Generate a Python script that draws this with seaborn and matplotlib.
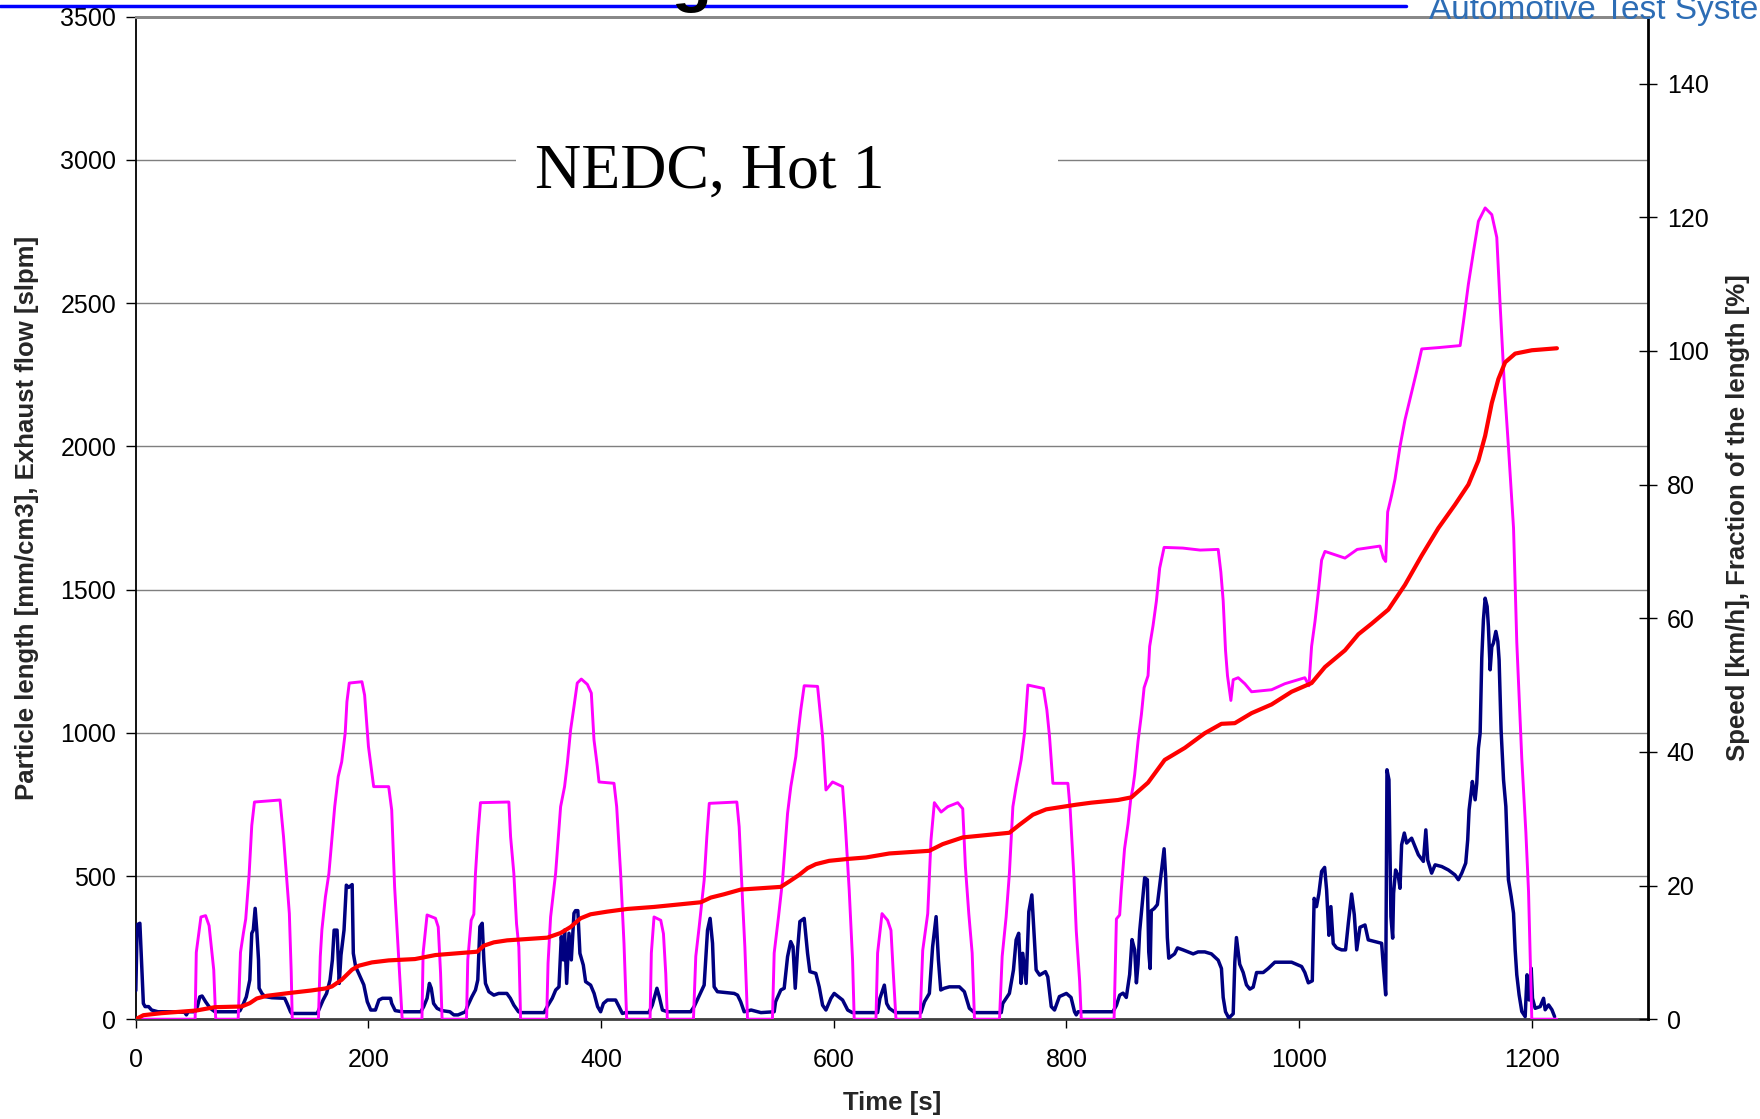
import matplotlib
matplotlib.use("Agg")
import matplotlib.pyplot as plt
import pandas as pd
import seaborn as sns
from matplotlib.lines import Line2D
from matplotlib.patches import Rectangle

# ---- measured traces: (time [s], value) ----
# vehicle speed [km/h], right axis
speed_trace = [
    (0, 0), (51, 0), (52, 10), (56, 15.3), (60, 15.5), (63, 14), (67, 7.4), (68.7, 0),
    (88, 0), (90, 10), (92.6, 13), (94.5, 15), (97.4, 21.6), (99.7, 29), (102, 32.5), (124, 32.8),
    (127, 27.3), (132, 15.8), (133.6, 7.1), (134.5, 0),
    (157, 0), (158.6, 9.4), (160, 13.4), (163, 18.3), (166, 21.8), (171, 31.8), (174, 36.3), (177, 38.5),
    (180, 42.8), (181.5, 47.5), (183.5, 50.3), (194.4, 50.5), (196.7, 48.5), (200, 40.8), (204.5, 34.8),
    (217.4, 34.8), (220, 31.3), (222.5, 19.8), (227.4, 4.9), (229, 0),
    (246, 0), (247, 9.9), (250.4, 15.6), (257.6, 15.1), (260, 13.8), (262, 6.9), (263.3, 0),
    (284.3, 0), (285.4, 8.9), (288.3, 14.8), (290.6, 15.7), (292, 21.8), (294, 27.3), (296.3, 32.4),
    (320.7, 32.5), (322.2, 27.3), (325, 21.8), (327.3, 14.3), (329.3, 10.8), (330.8, 0),
    (353.2, 0), (354.4, 8.4), (356.6, 15.3), (360.9, 21.8), (365.2, 31.8), (368.6, 34.8), (371, 38.3),
    (373.8, 43.3), (376.7, 46.8), (379.5, 50.3), (383, 50.9), (388.2, 50.1), (391.6, 48.8), (393.9, 41.8),
    (396.8, 37.8), (398.2, 35.5), (411.1, 35.3), (413.4, 31.8), (416.8, 21.8), (419.7, 11.3), (422, 0),
    (442.1, 0), (443.2, 9.9), (445.5, 15.3), (451.3, 14.8), (453.6, 12.8), (455.6, 6.8), (457, 0),
    (479.4, 0), (481.4, 9.4), (484.3, 13.8), (488.6, 20.8), (490.9, 27.3), (493, 32.3), (516.7, 32.5),
    (518.7, 28.8), (521.6, 17.8), (523.6, 10.8), (525.9, 0),
    (547.3, 0), (548.8, 9.9), (552.5, 15.3), (556, 20.8), (560.3, 30.8), (563.1, 34.8), (567.4, 39.3),
    (569.7, 43.3), (571.7, 46.3), (574.6, 49.9), (586.1, 49.8), (588.1, 46.3), (590.4, 42.3), (593.3, 34.3),
    (599, 35.5), (607.6, 34.8), (609.9, 29.3), (613.3, 19.3), (616.2, 8.8), (617.6, 0),
    (636.3, 0), (637.7, 9.9), (641.5, 15.8), (646.3, 14.8), (649.2, 13.3), (651.2, 6.9), (653.5, 0),
    (674.2, 0), (676.5, 10.3), (680.8, 15.8), (683.6, 26.8), (686.5, 32.4), (692.3, 31), (698, 31.8),
    (706.6, 32.4), (710.9, 31.5), (713.2, 22.8), (716.1, 15.8), (719, 9.9), (721, 0),
    (742.5, 0), (744.8, 9.4), (748.2, 15.3), (751, 21.8), (754, 31.8), (756.8, 34.8), (761.1, 38.8),
    (764, 42.8), (766.9, 50), (780.3, 49.5), (783.2, 46.3), (785.5, 42.3), (788.4, 35.3), (801.3, 35.3),
    (803.3, 31.3), (806.5, 21.2), (808.5, 13.2), (811.4, 5.7), (812.8, 0),
    (841, 0), (843, 15), (845.8, 15.6), (847.2, 19.3), (850, 25.5), (853, 29.2), (855.3, 32.9),
    (857.3, 34.8), (858.7, 36.6), (861.6, 41.6), (864.5, 45.6), (866.8, 49.6), (870.2, 51.4),
    (871.6, 55.8), (874.5, 58.9), (877.4, 62.6), (880.2, 67.5), (884, 70.6), (900, 70.5), (915, 70.2),
    (930.5, 70.3), (932.8, 66.9), (934.8, 62.6), (936.8, 55.2), (938.5, 51.4), (941.4, 47.7),
    (943.4, 50.8), (947.7, 51.1), (953.4, 50.2), (959.2, 49), (976.4, 49.3), (987.8, 50.2), (1005, 51.1),
    (1008.5, 49.9), (1010.8, 55.8), (1013.7, 59.5), (1016.5, 63.8), (1019.4, 68.7), (1022.3, 70),
    (1039.5, 69), (1050, 70.3), (1069.6, 70.8), (1072.5, 69), (1074.5, 68.5), (1076.2, 75.9),
    (1079.6, 78.4), (1082.5, 80.8), (1086.8, 85.7), (1091.1, 89.7), (1096.8, 93.8), (1101.2, 97),
    (1105.5, 100.3), (1120, 100.5), (1138.5, 100.8), (1141.3, 104.3), (1145.6, 110), (1150, 114.9),
    (1154.2, 119.4), (1160, 121.4), (1165.7, 120.4), (1170, 117), (1172.9, 106.8), (1176.6, 94.6),
    (1180, 85.7), (1184.4, 73.5), (1187.2, 56.4), (1191.5, 39), (1195, 28), (1197.3, 19.1),
    (1200.1, 0), (1221.7, 0),
]

# cumulative fraction of the particle length [%], right axis
fraction_trace = [
    (0, 0), (6.5, 0.6), (22, 0.9), (52, 1.3), (68, 1.8), (91, 1.9), (98, 2.4), (104, 3.1),
    (112.6, 3.5), (131, 3.9), (151, 4.3), (163, 4.6), (168.6, 4.9), (177, 5.9), (185.8, 7.4),
    (191.6, 8.0), (203, 8.5), (217.4, 8.8), (240, 9.0), (257.6, 9.6), (279, 9.9), (293.5, 10.1),
    (299.2, 11.0), (307.8, 11.5), (319.3, 11.8), (353.7, 12.2), (365.2, 12.9), (373.8, 13.8),
    (382.4, 15.1), (391, 15.7), (405.4, 16.1), (422.6, 16.5), (445.5, 16.8), (468.5, 17.2),
    (485.7, 17.5), (494.3, 18.2), (505.8, 18.7), (520.1, 19.4), (537.4, 19.6), (554.5, 19.8),
    (561.7, 20.6), (570.3, 21.6), (577.5, 22.6), (584.6, 23.2), (596.1, 23.7), (613.3, 24.0),
    (627.7, 24.2), (647.8, 24.8), (682.2, 25.2), (693.7, 26.2), (710.9, 27.2), (733.9, 27.6),
    (751, 27.9), (759.7, 29.1), (771.2, 30.6), (782.6, 31.4), (808.5, 32.1), (821.4, 32.4),
    (844.4, 32.8), (855.9, 33.2), (870.2, 35.4), (884.5, 38.8), (901.8, 40.6), (919, 42.8),
    (933.3, 44.2), (944.8, 44.3), (959.2, 45.8), (976.4, 47.1), (993.6, 49.0), (1010.8, 50.3),
    (1022.3, 52.7), (1039.5, 55.2), (1051, 57.6), (1062.5, 59.2), (1076.8, 61.3), (1091.1, 65.0),
    (1105.5, 69.4), (1119.8, 73.5), (1134.1, 77.0), (1145.6, 80.0), (1154.2, 83.6), (1160, 87.3),
    (1165.7, 92.2), (1171.4, 95.8), (1177.2, 98.3), (1185.8, 99.6), (1200.1, 100.1), (1221.7, 100.4),
]

# particle length / exhaust flow signal, left axis
flow_trace = [
    (0, 100), (1.2, 330), (3.5, 335), (5, 195), (6.5, 55), (8, 44), (11, 44), (13.6, 32), (19, 26),
    (30, 26), (42, 24), (43.5, 15), (45, 26), (51, 26), (53, 45), (55, 78), (57, 81), (60, 61),
    (64, 38), (68, 26), (88, 26), (89.6, 30), (92.6, 55), (95, 78), (98, 137), (99.7, 300), (101, 311),
    (102.6, 387), (104, 311), (105.5, 207), (106, 108), (108.4, 90), (111, 79), (117, 75), (128, 73),
    (130, 55), (133, 26), (134, 20), (156, 20),
    (158.6, 44), (161, 67), (164, 90), (167, 137), (169, 207), (170.5, 311), (173, 311), (174.9, 125),
    (176.4, 224), (179, 311), (181, 468), (183, 460), (186, 470), (187, 230), (189, 183), (191.6, 160),
    (196, 120), (199, 61), (202, 32), (206, 32), (209, 67), (212, 73), (219, 73), (220, 55), (223, 30),
    (229, 26), (245, 26), (247.5, 44), (250.4, 73), (252.4, 125), (254, 108), (256, 55), (259, 38),
    (263, 30), (270, 26), (273.4, 15), (277, 15), (283.4, 26), (285, 44), (289, 79), (292, 102),
    (294, 137), (295.8, 323), (297.8, 335), (299.2, 207), (300.6, 125), (303.5, 96), (307.8, 84),
    (312, 90), (319, 90), (322, 73), (325, 49), (329, 26), (331, 23), (351, 23), (353.7, 44), (358, 73),
    (361, 102), (363.8, 113), (365.8, 288), (367.5, 207), (368.6, 311), (370.4, 125), (372.4, 300),
    (374.4, 207), (376.7, 370), (378, 379), (380, 379), (381.8, 230), (384.7, 189), (386.7, 131),
    (391, 119), (394, 90), (397, 44), (399.6, 26), (402, 55), (405.4, 67), (412.5, 67), (415.4, 44),
    (418.3, 20), (421, 23), (441, 23), (444, 49), (448, 108), (450, 79), (452.7, 32), (457, 26),
    (477, 26), (480, 44), (484, 79), (488.6, 119), (491.5, 311), (493.7, 352), (495.8, 265),
    (497.2, 113), (500, 96), (514.4, 90), (517.3, 84), (520, 61), (523, 26), (529, 32), (537.4, 23),
    (548.8, 26), (550, 61), (554.5, 102), (557.4, 108), (560.3, 218), (563, 271), (565, 253),
    (566.9, 108), (568.9, 242), (570.9, 341), (574.6, 352), (577.5, 230), (579.5, 166), (584.6, 160),
    (587.5, 113), (590.4, 49), (593.3, 32), (597.6, 73), (600.4, 90), (607.6, 67), (612, 32), (616, 23),
    (637.7, 23), (639.7, 73), (643.5, 119), (645.5, 55), (647.8, 38), (652, 26), (653.5, 23), (675, 23),
    (678, 61), (682.2, 90), (685, 253), (688, 358), (690, 207), (692, 102), (695, 108), (699.4, 113),
    (708, 113), (712.3, 96), (716.6, 38), (721, 23), (744, 23), (745.3, 55), (751, 90), (754.5, 172),
    (756.8, 277), (759, 300), (761, 125), (762.5, 230), (765.4, 125), (767.7, 375), (770.3, 434),
    (771.7, 335), (774, 172), (777, 154), (782, 166), (784, 148), (787, 44), (789.8, 32), (794, 79),
    (800, 90), (804, 76), (807, 26), (808.5, 15), (810, 26), (840, 26),
    (843, 48), (845.8, 84), (848.7, 91), (851.5, 76), (854.4, 156), (856.4, 278), (858.7, 242),
    (860.2, 127), (861.6, 192), (863, 307), (865, 393), (867.3, 494), (869.6, 487), (870.8, 235),
    (872, 177), (873, 379), (875.4, 386), (878.2, 400), (880.2, 465), (881.7, 516), (884, 595),
    (885.4, 494), (886.8, 285), (888, 213), (893, 228), (895.5, 249), (900.3, 242), (904.6, 235),
    (909, 228), (913.2, 235), (919, 235), (924.7, 228), (930.5, 206), (933.3, 177), (934.8, 76),
    (936.8, 26), (939.6, 4), (943.4, 19), (944.8, 199), (946.2, 285), (949, 192), (952, 163),
    (954.8, 120), (957.7, 105), (960.6, 112), (963.5, 163), (969.2, 163), (973.5, 177), (979.2, 199),
    (987.8, 199), (993.6, 199), (1002.2, 184), (1005, 163), (1008, 127), (1011.4, 134), (1013, 422),
    (1015, 393), (1017, 437), (1019.4, 516), (1022, 530), (1023.7, 451), (1025.7, 293), (1027.4, 393),
    (1029.4, 264), (1032.3, 249), (1036.6, 242), (1040, 242), (1042.4, 336), (1045.2, 437),
    (1047.5, 365), (1049.6, 242), (1052.4, 321), (1056.7, 329), (1059.5, 277), (1065.3, 271),
    (1071, 265), (1072.5, 184), (1074.5, 85), (1075.6, 871), (1077.3, 836), (1079, 358), (1080.5, 283),
    (1081.3, 440), (1083, 521), (1085.4, 498), (1086.8, 457), (1088.2, 609), (1090.5, 650),
    (1092.5, 615), (1096.8, 632), (1099.7, 603), (1102.6, 574), (1106.9, 551), (1109, 661),
    (1110.6, 556), (1114, 510), (1117, 539), (1122.7, 533), (1128.4, 521), (1134, 504), (1137, 487),
    (1139.9, 510), (1143.3, 545), (1145, 626), (1146.2, 731), (1147.9, 789), (1149, 830), (1151.4, 766),
    (1152.8, 824), (1154.2, 946), (1155.7, 999), (1157.1, 1261), (1158.5, 1394), (1160, 1470),
    (1161.7, 1441), (1162.8, 1371), (1164.3, 1220), (1165.7, 1300), (1167.1, 1313), (1169.2, 1354),
    (1170.9, 1319), (1172, 1255), (1173.7, 1010), (1175.8, 836), (1177.8, 743), (1180, 487),
    (1182.4, 428), (1184.4, 370), (1185.8, 242), (1187.2, 155), (1189.2, 85), (1191.5, 27),
    (1194.4, 9), (1196, 155), (1197.9, 67), (1199.6, 178), (1200.7, 73), (1203, 38), (1207.3, 44),
    (1210.2, 73), (1211.6, 33), (1214.5, 50), (1217.4, 33), (1219.7, 9),
]

x_ticks = [0, 200, 400, 600, 800, 1000, 1200]
left_ticks = [0, 500, 1000, 1500, 2000, 2500, 3000, 3500]
right_ticks = [0, 20, 40, 60, 80, 100, 120, 140]

chart_title = "NEDC, Hot 1"
x_label = "Time [s]"
left_label = "Particle length [mm/cm3], Exhaust flow [slpm]"
right_label = "Speed [km/h], Fraction of the length [%]"
header_text = "Automotive Test Systems"

speed = pd.DataFrame(speed_trace, columns=["t", "v"])
fraction = pd.DataFrame(fraction_trace, columns=["t", "v"])
flow = pd.DataFrame(flow_trace, columns=["t", "v"])

sns.set_theme(style="white")
plt.rcParams["font.family"] = ["Liberation Sans", "DejaVu Sans"]

W, H = 1760, 1119
fig = plt.figure(figsize=(W / 100, H / 100), dpi=100)
L, R, T, B = 135.8, 1648.0, 16.8, 1019.2
ax = fig.add_axes([L / W, 1 - B / H, (R - L) / W, (B - T) / H])
ax2 = ax.twinx()

# left-axis signal
sns.lineplot(data=flow, x="t", y="v", ax=ax, color="#000080", lw=2.5,
             estimator=None, sort=False, zorder=3)
# right-axis traces
sns.lineplot(data=speed, x="t", y="v", ax=ax2, color="#FF00FF", lw=2.1,
             estimator=None, sort=False, zorder=2)
sns.lineplot(data=fraction, x="t", y="v", ax=ax2, color="#FF0000", lw=3.0,
             estimator=None, sort=False, zorder=4)

ax.set_xlim(0, 1300)
ax.set_ylim(0, 3500)
ax2.set_ylim(0, 150)
ax.set_xticks(x_ticks)
ax.set_xticklabels([str(v) for v in x_ticks])
ax.set_yticks(left_ticks)
ax.set_yticklabels([str(v) for v in left_ticks])
ax2.set_yticks(right_ticks)
ax2.set_yticklabels([str(v) for v in right_ticks])

ax.grid(axis="y", color="#7f7f7f", lw=1.0)
ax.grid(axis="x", visible=False)
ax2.grid(False)

ax.tick_params(axis="y", direction="out", length=7, width=1, pad=7,
               labelsize=18, colors="black", left=True)
ax.tick_params(axis="x", direction="out", length=6.5, width=1, pad=14,
               labelsize=18, colors="black", bottom=True)
ax2.tick_params(axis="y", direction="inout", length=13, width=1, pad=7,
                labelsize=18, colors="black", right=True)

for a in (ax, ax2):
    a.spines["top"].set_color("#888888")
    a.spines["top"].set_linewidth(2.0)
ax.spines["left"].set_color("black")
ax.spines["left"].set_linewidth(1.3)
ax.spines["bottom"].set_color("#404040")
ax.spines["bottom"].set_linewidth(2.0)
ax.spines["right"].set_visible(False)
ax2.spines["left"].set_visible(False)
ax2.spines["bottom"].set_visible(False)
ax2.spines["right"].set_color("black")
ax2.spines["right"].set_linewidth(2.0)

ax.set_xlabel(x_label, fontsize=18.5, fontweight="bold")
ax.xaxis.set_label_coords(0.5, -0.0716)
ax.set_ylabel(left_label, fontsize=18.5, fontweight="bold")
ax.yaxis.set_label_coords(-0.064, 0.5)
ax2.set_ylabel(right_label, fontsize=18.5, fontweight="bold", rotation=90)
ax2.yaxis.set_label_coords(1.0516, 0.5)

# title box over the upper gridline
ax.add_patch(Rectangle((0.2514, 0.80), 0.3584, 0.085, transform=ax.transAxes,
                       facecolor="white", edgecolor="none", zorder=1))
ax.text(0.3797, 0.845, chart_title, transform=ax.transAxes, ha="center", va="center",
        fontsize=46, family=["Liberation Serif", "DejaVu Serif"], color="black", zorder=5)

# slide header strip
fig.add_artist(Line2D([0, 1406 / W], [1 - 6 / H, 1 - 6 / H], color="#0000FF", lw=2.5))
fig.text(1429 / W, 1 - 19 / H, header_text, ha="left", va="baseline",
         fontsize=24, color="#2D6DB5")
fig.text(671 / W, 1 + 0 / H, "g", ha="left", va="baseline", fontsize=47,
         fontweight="bold", color="black")

fig.savefig("out.png", dpi=100)
